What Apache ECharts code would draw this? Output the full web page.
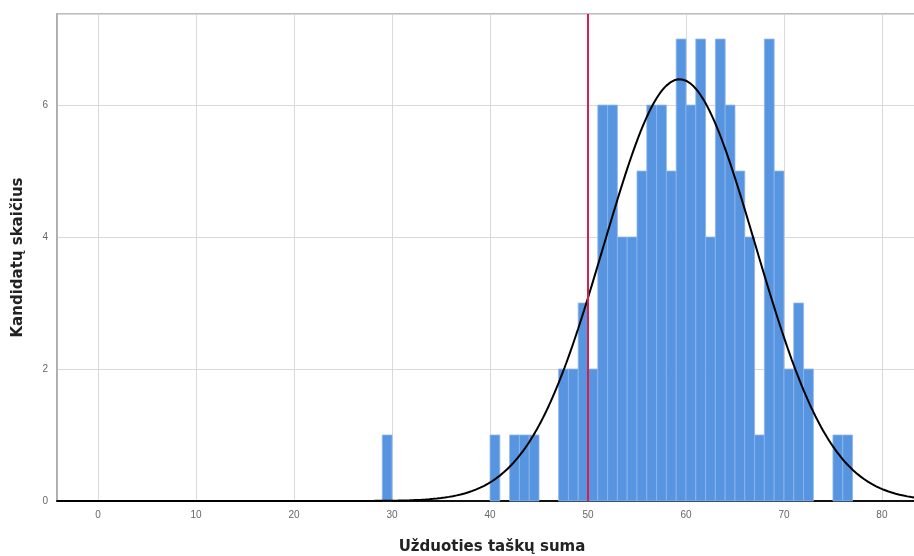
<!DOCTYPE html>
<html>
<head>
<meta charset="utf-8">
<script src="https://cdn.jsdelivr.net/npm/echarts@6/dist/echarts.min.js"></script>
<style>html,body{margin:0;padding:0;background:#fff;}#c{width:914px;height:556px;}</style>
</head>
<body>
<div id="c"></div>
<script>
// Histogram bins: left edge of each 1-point bin and its count
var binStarts = [29, 40, 42, 43, 44, 47, 48, 49, 50, 51, 52, 53, 54, 55, 56, 57, 58, 59, 60, 61, 62, 63, 64, 65, 66, 67, 68, 69, 70, 71, 72, 75, 76];
var binCounts = [1, 1, 1, 1, 1, 2, 2, 3, 2, 6, 6, 4, 4, 5, 6, 6, 5, 7, 6, 7, 4, 7, 6, 5, 4, 1, 7, 5, 2, 3, 2, 1, 1];
var binWidth = 1;
// Fitted normal curve parameters
var curveMean = 59.35;
var curveSd = 7.74;
var curveN = 124;
// Reference line
var refLineX = 50;
// Axis texts
var xTitle = 'Užduoties taškų suma';
var yTitle = 'Kandidatų skaičius';
var xMin = -4.2, xMax = 84.6, yMin = 0, yMax = 7.38;

var histData = binStarts.map(function (s, i) { return [s, binCounts[i]]; });
var curveData = [];
for (var x = xMin; x <= xMax + 1e-9; x += 0.2) {
  var z = (x - curveMean) / curveSd;
  curveData.push([x, curveN * binWidth / (curveSd * Math.sqrt(2 * Math.PI)) * Math.exp(-0.5 * z * z)]);
}

var titleFont = {fontFamily: 'DejaVu Sans, sans-serif', fontWeight: 'bold', fontSize: 15, color: '#222'};
var chart = echarts.init(document.getElementById('c'), null, {renderer: 'canvas'});
chart.setOption({
  animation: false,
  backgroundColor: '#ffffff',
  grid: {left: 57, top: 14, width: 870, height: 487, outerBoundsMode: 'none', containLabel: false,
         show: true, borderColor: '#a8a8a8', borderWidth: 1.5, backgroundColor: 'transparent'},
  xAxis: {
    type: 'value', min: xMin, max: xMax, splitNumber: 9, minInterval: 10, maxInterval: 10,
    name: xTitle, nameLocation: 'middle', nameGap: 39,
    nameTextStyle: titleFont,
    axisLine: {show: true, onZero: false, lineStyle: {color: '#111', width: 2}},
    axisTick: {show: false},
    axisLabel: {showMinLabel: false, showMaxLabel: false, color: '#666', fontSize: 10, margin: 9, fontFamily: 'Liberation Sans, Arial, sans-serif'},
    splitLine: {show: true, lineStyle: {color: '#d9d9d9', width: 1}}
  },
  yAxis: {
    type: 'value', min: yMin, max: yMax, interval: 2,
    name: yTitle, nameLocation: 'middle', nameGap: 31,
    nameTextStyle: titleFont,
    axisLine: {show: true, onZero: false, lineStyle: {color: '#a8a8a8', width: 1.5}},
    axisTick: {show: false},
    axisLabel: {showMaxLabel: false, color: '#666', fontSize: 10, margin: 9, fontFamily: 'Liberation Sans, Arial, sans-serif'},
    splitLine: {show: true, lineStyle: {color: '#d9d9d9', width: 1}}
  },
  series: [
    {
      type: 'custom',
      data: histData,
      encode: {x: 0, y: 1},
      renderItem: function (params, api) {
        var s = api.value(0), c = api.value(1);
        var p0 = api.coord([s, 0]);
        var p1 = api.coord([s + binWidth, c]);
        return {
          type: 'rect',
          shape: {x: p0[0], y: p1[1], width: p1[0] - p0[0], height: p0[1] - p1[1]},
          style: {fill: '#5895e1', stroke: '#8db6ec', lineWidth: 0.8}
        };
      },
      z: 2
    },
    {
      type: 'line',
      data: curveData,
      showSymbol: false,
      smooth: false,
      lineStyle: {color: '#000', width: 2},
      z: 3,
      markLine: {
        silent: true,
        symbol: 'none',
        label: {show: false},
        lineStyle: {color: '#d61f4c', width: 2, type: 'solid'},
        data: [{xAxis: refLineX}],
        z: 4
      }
    }
  ]
});
</script>
</body>
</html>
